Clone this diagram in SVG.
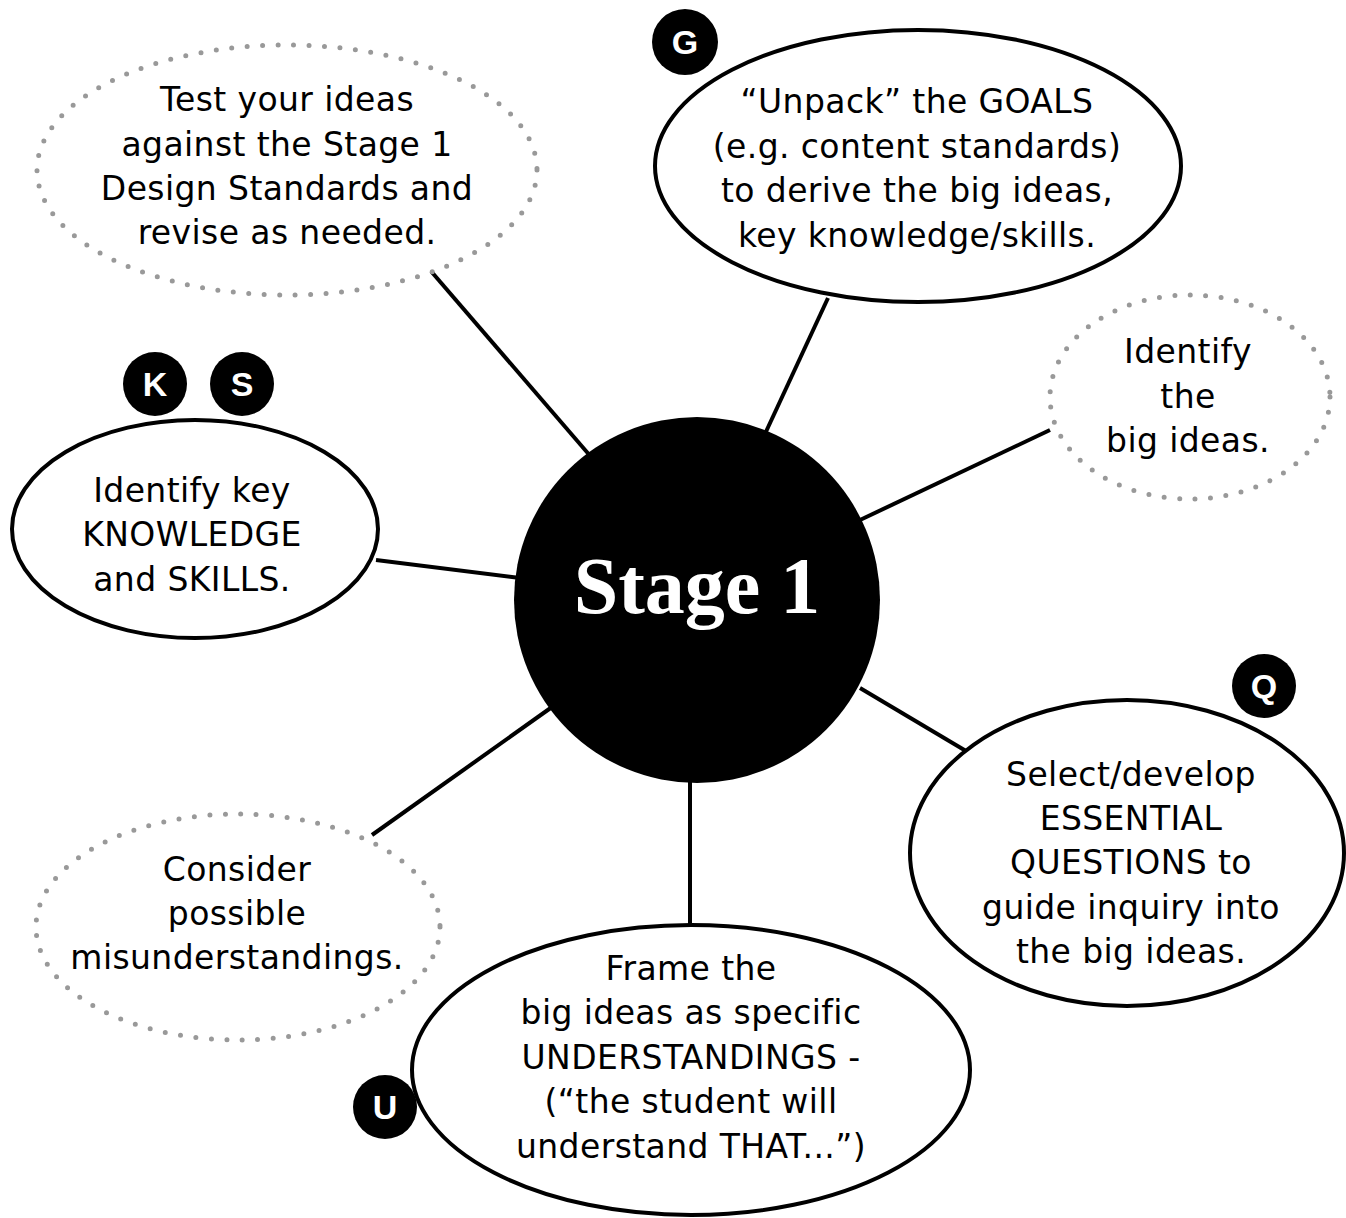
<svg xmlns="http://www.w3.org/2000/svg" width="1346" height="1218" viewBox="0 0 1346 1218">
<style>
.solid{fill:#fff;stroke:#000;stroke-width:4}
.dot{fill:#fff;stroke:#999;stroke-width:5;stroke-linecap:round;stroke-dasharray:0 15.5}
.t{font-family:"DejaVu Sans","Open Sans",sans-serif;font-size:33px;letter-spacing:0.4px;fill:#000;text-anchor:middle}
.badge circle{fill:#000}
.badge text{font-family:"Liberation Sans",Arial,sans-serif;font-weight:bold;font-size:34px;fill:#fff;text-anchor:middle}
.conn line{stroke:#000;stroke-width:4}
</style>
<rect width="1346" height="1218" fill="#fff"/>
<g id="connectors" class="conn">
<line x1="430" y1="270" x2="592" y2="458"/>
<line x1="828" y1="298" x2="764" y2="436"/>
<line x1="1050" y1="430" x2="860" y2="520"/>
<line x1="376" y1="560" x2="520" y2="578"/>
<line x1="860" y1="688" x2="966" y2="751"/>
<line x1="690" y1="780" x2="690" y2="924"/>
<line x1="372" y1="835" x2="552" y2="707"/>
</g>
<g id="test">
<ellipse class="dot" cx="287" cy="170" rx="250" ry="125"/>
<text class="t" x="287" y="111">Test your ideas</text>
<text class="t" x="287" y="156">against the Stage 1</text>
<text class="t" x="287" y="200">Design Standards and</text>
<text class="t" x="287" y="244">revise as needed.</text>
</g>
<g id="goals">
<ellipse class="solid" cx="918" cy="166" rx="263" ry="136"/>
<text class="t" x="917" y="113">“Unpack” the GOALS</text>
<text class="t" x="917" y="158">(e.g. content standards)</text>
<text class="t" x="917" y="202">to derive the big ideas,</text>
<text class="t" x="917" y="247">key knowledge/skills.</text>
</g>
<g id="badge-g" class="badge"><circle cx="685" cy="42" r="33"/><text x="685" y="54">G</text></g>
<g id="bigideas">
<ellipse class="dot" cx="1190" cy="397" rx="140" ry="102"/>
<text class="t" x="1188" y="363">Identify</text>
<text class="t" x="1188" y="408">the</text>
<text class="t" x="1188" y="452">big ideas.</text>
</g>
<g id="badge-k" class="badge"><circle cx="155" cy="384" r="32"/><text x="155" y="396">K</text></g>
<g id="badge-s" class="badge"><circle cx="242" cy="384" r="32"/><text x="242" y="396">S</text></g>
<g id="ks">
<ellipse class="solid" cx="195" cy="529" rx="183" ry="109"/>
<text class="t" x="192" y="502">Identify key</text>
<text class="t" x="192" y="546">KNOWLEDGE</text>
<text class="t" x="192" y="591">and SKILLS.</text>
</g>
<g id="stage1">
<circle cx="697" cy="600" r="183" fill="#000"/>
<text x="697" y="613" font-family="'Liberation Serif','Times New Roman',serif" font-weight="bold" font-size="80" fill="#fff" text-anchor="middle">Stage 1</text>
</g>
<g id="badge-q" class="badge"><circle cx="1264" cy="686" r="32"/><text x="1264" y="698">Q</text></g>
<g id="questions">
<ellipse class="solid" cx="1127" cy="853" rx="217" ry="153"/>
<text class="t" x="1131" y="786">Select/develop</text>
<text class="t" x="1131" y="830">ESSENTIAL</text>
<text class="t" x="1131" y="874">QUESTIONS to</text>
<text class="t" x="1131" y="919">guide inquiry into</text>
<text class="t" x="1131" y="963">the big ideas.</text>
</g>
<g id="misunderstandings">
<ellipse class="dot" cx="238" cy="927" rx="202" ry="113"/>
<text class="t" x="237" y="881">Consider</text>
<text class="t" x="237" y="925">possible</text>
<text class="t" x="237" y="969">misunderstandings.</text>
</g>
<g id="understandings">
<ellipse class="solid" cx="691" cy="1070" rx="279" ry="145"/>
<text class="t" x="691" y="980">Frame the</text>
<text class="t" x="691" y="1024">big ideas as specific</text>
<text class="t" x="691" y="1069">UNDERSTANDINGS -</text>
<text class="t" x="691" y="1113">(“the student will</text>
<text class="t" x="691" y="1158">understand THAT...”)</text>
</g>
<g id="badge-u" class="badge"><circle cx="385" cy="1107" r="32"/><text x="385" y="1119">U</text></g>
</svg>
